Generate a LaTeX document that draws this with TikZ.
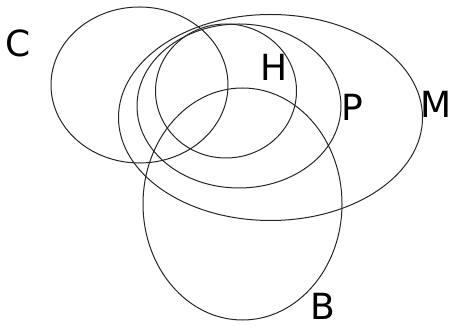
\documentclass[tikz,border=0pt]{standalone}
\usepackage{fontspec}
\setmainfont{DejaVu Sans}
\usepackage{tikz}
\usetikzlibrary{positioning}

\tikzset{
    setline/.style={draw=black!85,line width=1pt},
    setlabel/.style={font=\fontsize{36}{36}\selectfont,inner sep=0pt}
}

\begin{document}
\begin{tikzpicture}[x=1pt,y=1pt]
        % Frame
        \useasboundingbox (0,0) rectangle (454,326);

        % Sets
        \draw[setline] (139.5,241) ellipse [x radius=88.5,y radius=78];
        \draw[setline] (226,235) ellipse [x radius=70.5,y radius=67];
        \draw[setline] (239,220) ellipse [x radius=102,y radius=82];
        \draw[setline] (270.5,208.5) ellipse [x radius=152,y radius=103];
        \draw[setline] (242.5,122) ellipse [x radius=99.5,y radius=116];

        % Labels
        \node[setlabel] (labC) at (18,283) {C};
        \node[setlabel] (labH) at (274,258.5) {H};
        \node[setlabel] (labP) at (352,218.5) {P};
        \node[setlabel] (labM) at (436,222) {M};
        \node[setlabel] (labB) at (323,19.5) {B};
    \end{tikzpicture}
\end{document}
